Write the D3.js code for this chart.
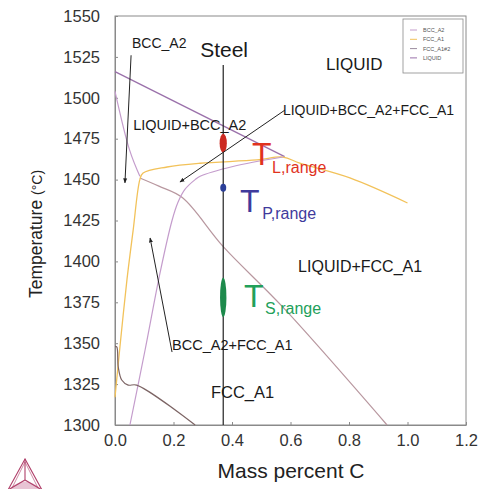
<!DOCTYPE html>
<html><head><meta charset="utf-8">
<script src="https://cdn.jsdelivr.net/npm/d3@7"></script>
<style>
html,body{margin:0;padding:0;background:#fff;}
svg{display:block;font-family:"Liberation Sans",Arial,Helvetica,sans-serif;}
</style></head>
<body><svg id="c" width="478" height="489"></svg>
<script>
// ---- data (mass percent C, temperature °C) ----
const xTicks = [0.0, 0.2, 0.4, 0.6, 0.8, 1.0, 1.2];
const yTicks = [1300, 1325, 1350, 1375, 1400, 1425, 1450, 1475, 1500, 1525, 1550];
const legendNames = ["BCC_A2", "FCC_A1", "FCC_A1#2", "LIQUID"];

const liquidusBcc = [[0, 1516], [0.29, 1490], [0.58, 1464]];
const bccLeft = [[0, 1504], [0.05, 1468], [0.085, 1452]];
const fccSolidus = [[0.085, 1451], [0.15, 1446], [0.23, 1439], [0.37, 1409], [0.574, 1372], [0.93, 1300]];
const fccLine = [[0, 1317], [0.017, 1348], [0.041, 1389], [0.062, 1419], [0.085, 1450], [0.096, 1454],
  [0.178, 1457.7], [0.291, 1460], [0.485, 1462], [0.574, 1463.8], [0.632, 1460], [0.803, 1451], [1.0, 1435.7]];
const bccFccLine = [[0.051, 1300], [0.103, 1346], [0.154, 1393], [0.195, 1425], [0.215, 1436], [0.239, 1444],
  [0.274, 1450], [0.291, 1452], [0.403, 1458], [0.574, 1463.8]];
const lowLine = [[0, 1348], [0.006, 1347.7], [0.011, 1335.6], [0.023, 1327.5], [0.045, 1324.4], [0.074, 1324.4], [0.274, 1300]];

const steelC = 0.37;
const steelTop = 1520;
const tRanges = [[1466.5, 1478], [1442.5, 1447.5], [1366, 1390]];
const tRangeLabels = ["L,range", "P,range", "S,range"];

// annotations (data coordinates)
const arrows = [
  [[0.055, 1526], [0.034, 1448]],
  [[0.581, 1492.5], [0.222, 1448.5]],
  [[0.195, 1344.6], [0.120, 1414.3]]
];
const labels = [
  {t: "Steel", c: 0.373, T: 1525, fs: 21, anchor: "middle"},
  {t: "BCC_A2", c: 0.058, T: 1530.4, fs: 14},
  {t: "LIQUID", c: 0.721, T: 1517, fs: 17},
  {t: "LIQUID+BCC_A2", c: 0.062, T: 1480.3, fs: 14.5},
  {t: "LIQUID+BCC_A2+FCC_A1", c: 0.574, T: 1489.5, fs: 14},
  {t: "LIQUID+FCC_A1", c: 0.626, T: 1393.5, fs: 16},
  {t: "BCC_A2+FCC_A1", c: 0.195, T: 1345.8, fs: 14.5},
  {t: "FCC_A1", c: 0.328, T: 1316.5, fs: 16.5}
];
const bigT = [
  {c: 0.468, T: 1458.9, sc: 0.537, sT: 1454},
  {c: 0.427, T: 1430.2, sc: 0.503, sT: 1425.9},
  {c: 0.441, T: 1372.1, sc: 0.513, sT: 1367.8}
];

// ---- drawing ----
const svg = d3.select("#c");
const x = d3.scaleLinear().domain([0, 1.2]).range([115, 466]);
const y = d3.scaleLinear().domain([1300, 1550]).range([425, 16]);
const axisCol = "#8a8a8a";

const lineColors = {bcc: "#c49ccc", fcc: "#f2c25a", fcc2: "#9a8c9e", liq: "#9a70aa"};
const legendColors = [lineColors.bcc, lineColors.fcc, lineColors.fcc2, lineColors.liq];

// frame
svg.append("rect").attr("x", x(0)).attr("y", y(1550)).attr("width", x(1.2) - x(0)).attr("height", y(1300) - y(1550))
  .attr("fill", "none").attr("stroke", axisCol).attr("stroke-width", 1);

// axes
const gx = svg.append("g").attr("transform", `translate(0,${y(1300)})`)
  .call(d3.axisBottom(x).tickValues(xTicks).tickFormat(d3.format(".1f")).tickSizeInner(-3).tickSizeOuter(0).tickPadding(9));
const gy = svg.append("g").attr("transform", `translate(${x(0)},0)`)
  .call(d3.axisLeft(y).tickValues(yTicks).tickFormat(d3.format("d")).tickSizeInner(-3).tickSizeOuter(0).tickPadding(15));
[gx, gy].forEach(g => {
  g.select(".domain").attr("stroke", axisCol);
  g.selectAll(".tick line").attr("stroke", axisCol);
  g.selectAll(".tick text").attr("font-size", 16.5).attr("fill", "#333").attr("font-family", "Liberation Sans, Arial, sans-serif");
});
gx.selectAll(".tick text").attr("dy", "0.71em");

// axis titles
svg.append("text").attr("x", 291).attr("y", 478).attr("text-anchor", "middle")
  .attr("font-size", 21).attr("fill", "#222").text("Mass percent C");
const yt = svg.append("text").attr("transform", "translate(42,234) rotate(-90)").attr("text-anchor", "middle").attr("fill", "#222");
yt.append("tspan").attr("font-size", 17.5).text("Temperature ");
yt.append("tspan").attr("font-size", 14).text("(°C)");

// curves
const straight = d3.line().x(d => x(d[0])).y(d => y(d[1]));
const smooth = d3.line().x(d => x(d[0])).y(d => y(d[1])).curve(d3.curveCatmullRom.alpha(0.5));
const curves = [
  [liquidusBcc, lineColors.liq, 1.3, straight],
  [bccLeft, lineColors.bcc, 1.2, smooth],
  [fccSolidus, "#b8979f", 1.2, smooth],
  [fccLine, lineColors.fcc, 1.3, smooth],
  [bccFccLine, lineColors.bcc, 1.2, smooth],
  [lowLine, "#7c6464", 1.2, smooth]
];
const cg = svg.append("g").attr("fill", "none");
curves.forEach(([d, col, w, gen]) => cg.append("path").attr("d", gen(d))
  .attr("stroke", col).attr("stroke-width", w).attr("stroke-linejoin", "round"));

// steel line
svg.append("line").attr("x1", x(steelC)).attr("x2", x(steelC)).attr("y1", y(steelTop)).attr("y2", y(1300))
  .attr("stroke", "#222").attr("stroke-width", 1.2);

// ellipses
const rCols = ["#cc2a22", "#2c3f98", "#1d8a4c"];
const rW = [3.6, 3, 3.2];
tRanges.forEach((r, i) => {
  svg.append("ellipse").attr("cx", x(steelC)).attr("cy", (y(r[0]) + y(r[1])) / 2)
    .attr("rx", rW[i]).attr("ry", (y(r[0]) - y(r[1])) / 2).attr("fill", rCols[i]);
});

// arrows
const defs = svg.append("defs");
defs.append("marker").attr("id", "ah").attr("viewBox", "0 0 10 10").attr("refX", 9).attr("refY", 5)
  .attr("markerWidth", 5).attr("markerHeight", 5).attr("orient", "auto")
  .append("path").attr("d", "M0,1 L10,5 L0,9 z").attr("fill", "#222");
arrows.forEach(a => svg.append("line").attr("x1", x(a[0][0])).attr("y1", y(a[0][1]))
  .attr("x2", x(a[1][0])).attr("y2", y(a[1][1])).attr("stroke", "#222").attr("stroke-width", 1)
  .attr("marker-end", "url(#ah)"));

// labels
labels.forEach(l => svg.append("text").attr("x", x(l.c)).attr("y", y(l.T)).attr("font-size", l.fs)
  .attr("text-anchor", l.anchor || "start").attr("fill", "#1a1a1a").text(l.t));

// T ranges text
const tCols = ["#e0321e", "#3f3a9c", "#22a05a"];
bigT.forEach((b, i) => {
  svg.append("text").attr("x", x(b.c)).attr("y", y(b.T)).attr("font-size", 32).attr("fill", tCols[i]).text("T");
  svg.append("text").attr("x", x(b.sc)).attr("y", y(b.sT)).attr("font-size", 16).attr("fill", tCols[i]).text(tRangeLabels[i]);
});

// legend
const lg = svg.append("g");
lg.append("rect").attr("x", 403).attr("y", 19).attr("width", 60).attr("height", 54)
  .attr("fill", "#fff").attr("stroke", "#8a8a8a").attr("stroke-width", 0.8);
legendNames.forEach((n, i) => {
  const yy = 30 + i * 9.3;
  lg.append("line").attr("x1", 410).attr("x2", 417).attr("y1", yy).attr("y2", yy)
    .attr("stroke", legendColors[i]).attr("stroke-width", 1);
  lg.append("text").attr("x", 423).attr("y", yy + 2).attr("font-size", 5.5).attr("fill", "#555").text(n);
});

// logo
const logo = svg.append("g").attr("stroke", "#b0406a").attr("fill", "none").attr("stroke-width", 1.1);
logo.append("path").attr("d", "M9,489 Q25,474 41,489 Z").attr("fill", "#e8c4d4").attr("stroke", "none");
logo.append("path").attr("d", "M25,459 L8,490 L42,490 Z");
logo.append("path").attr("d", "M25,459 L25,480 M8,490 L25,480 L42,490");
logo.append("path").attr("d", "M25,462 L12,488 M25,462 L38,488").attr("stroke-width", 0.6);
</script></body></html>
